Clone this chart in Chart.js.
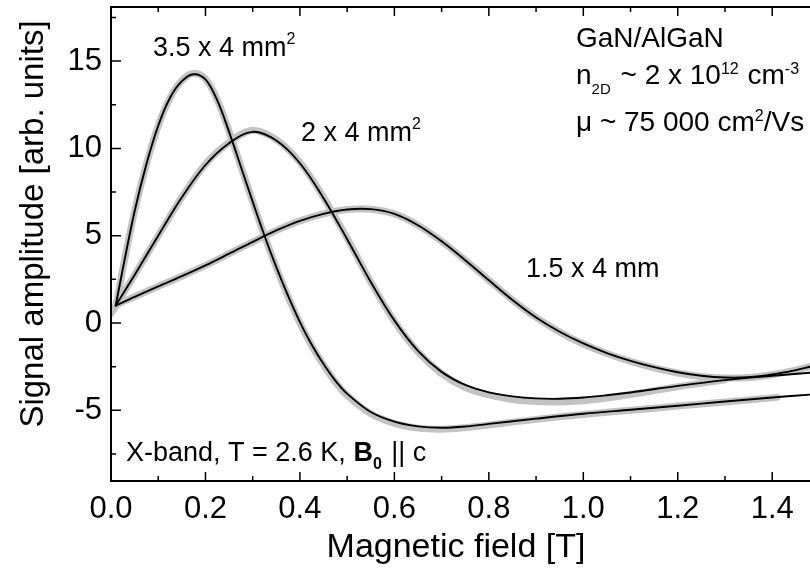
<!DOCTYPE html>
<html>
<head>
<meta charset="utf-8">
<script src="https://cdn.jsdelivr.net/npm/chart.js@4.4.1/dist/chart.umd.min.js"></script>
<style>
  html, body { margin: 0; padding: 0; background: #fff; }
  #wrap { width: 810px; height: 574px; }
</style>
</head>
<body>
<div id="wrap"><canvas id="chart"></canvas></div>
<script>
// ── Données ───────────────────────────────────────────────────────────────────
// 3.5 x 4 mm²
const fieldA = [0.01, 0.025, 0.05, 0.075, 0.1, 0.125, 0.15, 0.175, 0.2, 0.225, 0.25, 0.275, 0.3, 0.325, 0.35, 0.375, 0.4, 0.425, 0.45, 0.475, 0.5, 0.55, 0.6, 0.65, 0.7, 0.75, 0.8, 0.9, 1.0, 1.1, 1.2, 1.3, 1.4, 1.48];
const fitA   = [1.0, 3.1, 6.4, 9.1, 11.3, 12.9, 13.85, 14.25, 13.95, 12.75, 10.95, 8.95, 6.95, 5.0, 3.2, 1.55, 0.05, -1.25, -2.35, -3.3, -4.05, -5.1, -5.65, -5.92, -6.0, -5.93, -5.78, -5.48, -5.2, -4.97, -4.74, -4.5, -4.27, -4.1];
const measFieldA = [0.0, 0.01, 0.025, 0.05, 0.075, 0.1, 0.125, 0.15, 0.175, 0.2, 0.225, 0.25, 0.275, 0.3, 0.325, 0.35, 0.375, 0.4, 0.425, 0.45, 0.475, 0.5, 0.55, 0.6, 0.65, 0.7, 0.75, 0.8, 0.9, 1.0, 1.1, 1.2, 1.3, 1.41];
const measA      = [0.55, 1.0, 3.1, 6.4, 9.1, 11.3, 12.9, 13.88, 14.3, 13.98, 12.78, 10.98, 8.97, 6.97, 5.0, 3.18, 1.5, 0.0, -1.3, -2.4, -3.38, -4.15, -5.2, -5.75, -6.02, -6.08, -6.0, -5.84, -5.52, -5.24, -5.0, -4.76, -4.52, -4.26];

// 2 x 4 mm²
const fieldB = [0.01, 0.05, 0.1, 0.15, 0.2, 0.25, 0.3, 0.35, 0.4, 0.45, 0.5, 0.55, 0.6, 0.65, 0.7, 0.75, 0.8, 0.85, 0.9, 0.95, 1.0, 1.05, 1.1, 1.2, 1.3, 1.4, 1.48];
const fitB   = [1.0, 2.75, 5.0, 7.2, 9.05, 10.3, 10.95, 10.45, 9.15, 7.15, 4.8, 2.35, 0.15, -1.6, -2.8, -3.55, -3.97, -4.2, -4.32, -4.34, -4.27, -4.14, -3.98, -3.6, -3.27, -3.02, -2.85];
const measFieldB = [0.0, 0.01, 0.05, 0.1, 0.15, 0.2, 0.25, 0.3, 0.35, 0.4, 0.45, 0.5, 0.55, 0.6, 0.65, 0.7, 0.75, 0.8, 0.85, 0.9, 0.95, 1.0, 1.05, 1.1, 1.2, 1.3];
const measB      = [0.6, 1.0, 2.75, 5.0, 7.2, 9.1, 10.35, 11.02, 10.5, 9.2, 7.2, 4.85, 2.35, 0.1, -1.65, -2.9, -3.7, -4.12, -4.38, -4.5, -4.52, -4.45, -4.3, -4.1, -3.65, -3.25];

// 1.5 x 4 mm
const fieldC = [0.01, 0.05, 0.1, 0.15, 0.2, 0.25, 0.3, 0.35, 0.4, 0.45, 0.5, 0.55, 0.6, 0.65, 0.7, 0.75, 0.8, 0.85, 0.9, 0.95, 1.0, 1.05, 1.1, 1.15, 1.2, 1.25, 1.3, 1.35, 1.4, 1.45, 1.48];
const fitC   = [1.0, 1.5, 2.1, 2.68, 3.3, 3.97, 4.65, 5.3, 5.85, 6.25, 6.5, 6.52, 6.25, 5.6, 4.68, 3.6, 2.45, 1.32, 0.32, -0.5, -1.17, -1.72, -2.17, -2.53, -2.82, -3.02, -3.12, -3.1, -2.95, -2.7, -2.5];
const measFieldC = [0.0, 0.01, 0.05, 0.1, 0.15, 0.2, 0.25, 0.3, 0.35, 0.4, 0.45, 0.5, 0.55, 0.6, 0.65, 0.7, 0.75, 0.8, 0.85, 0.9, 0.95, 1.0, 1.05, 1.1, 1.15, 1.2, 1.25, 1.3, 1.35, 1.4, 1.45, 1.48];
const measC      = [0.6, 1.0, 1.5, 2.1, 2.68, 3.3, 3.97, 4.65, 5.3, 5.85, 6.25, 6.5, 6.52, 6.25, 5.6, 4.68, 3.6, 2.45, 1.32, 0.32, -0.52, -1.2, -1.75, -2.2, -2.57, -2.86, -3.06, -3.15, -3.12, -2.96, -2.7, -2.5];

// ── Axes ──────────────────────────────────────────────────────────────────────
const xMajor = [0, 0.2, 0.4, 0.6, 0.8, 1.0, 1.2, 1.4];
const xMinor = [0.1, 0.3, 0.5, 0.7, 0.9, 1.1, 1.3];
const yMajor = [-5, 0, 5, 10, 15];
const yMinor = [-7.5, -2.5, 2.5, 7.5, 12.5, 17.5];

const FONT = '"Liberation Sans", Arial, sans-serif';
const GREY = '#c3c3c3';

const pts = (xs, ys) => xs.map((x, i) => ({ x, y: ys[i] }));

function lineSet(data, color, width, order) {
  return {
    data,
    borderColor: color,
    borderWidth: width,
    pointRadius: 0,
    fill: false,
    tension: 0.35,
    borderCapStyle: 'round',
    borderJoinStyle: 'round',
    order,
  };
}

// ── Textes : morceaux avec indices / exposants ─────────────────────────────────
function drawRuns(ctx, x, y, runs) {
  let cx = x;
  runs.forEach(r => {
    ctx.font = `${r.bold ? 'bold ' : ''}${r.size}px ${FONT}`;
    ctx.fillText(r.t, cx, y + (r.dy || 0));
    cx += ctx.measureText(r.t).width + (r.gap || 0);
  });
}

const framePlugin = {
  id: 'frame',
  afterDraw(chart) {
    const { ctx, chartArea: a, scales: { x, y } } = chart;
    ctx.save();
    ctx.strokeStyle = '#000';
    ctx.lineWidth = 2;
    ctx.beginPath();
    ctx.moveTo(a.left, a.top); ctx.lineTo(a.left, a.bottom);
    ctx.moveTo(a.left - 1, a.bottom); ctx.lineTo(a.right, a.bottom);
    ctx.moveTo(a.left - 1, a.top); ctx.lineTo(a.right, a.top);
    ctx.stroke();

    ctx.lineWidth = 1.5;
    ctx.beginPath();
    const xt = (v, len) => {
      const px = x.getPixelForValue(v);
      ctx.moveTo(px, a.bottom); ctx.lineTo(px, a.bottom - len);
      ctx.moveTo(px, a.top); ctx.lineTo(px, a.top + len);
    };
    const yt = (v, len) => {
      const py = y.getPixelForValue(v);
      ctx.moveTo(a.left, py); ctx.lineTo(a.left + len, py);
    };
    xMajor.forEach(v => xt(v, 9));
    xMinor.forEach(v => xt(v, 5));
    yMajor.forEach(v => yt(v, 10));
    yMinor.forEach(v => yt(v, 5));
    ctx.stroke();

    // titres d'axes
    ctx.fillStyle = '#000';
    ctx.textBaseline = 'middle';
    ctx.textAlign = 'center';
    ctx.font = `34px ${FONT}`;
    ctx.fillText('Magnetic field [T]', 456, 548);
    ctx.save();
    ctx.font = `33px ${FONT}`;
    ctx.translate(34, 224);
    ctx.rotate(-Math.PI / 2);
    ctx.fillText('Signal amplitude [arb. units]', 0, 0);
    ctx.restore();

    // annotations
    ctx.textAlign = 'left';
    ctx.textBaseline = 'alphabetic';
    drawRuns(ctx, 153, 56, [{ t: '3.5 x 4 mm', size: 27 }, { t: '2', size: 16, dy: -12 }]);
    drawRuns(ctx, 301, 141, [{ t: '2 x 4 mm', size: 27 }, { t: '2', size: 16, dy: -12 }]);
    drawRuns(ctx, 526, 277, [{ t: '1.5 x 4 mm', size: 27 }]);
    drawRuns(ctx, 126, 461, [
      { t: 'X-band, T = 2.6 K, ', size: 27 },
      { t: 'B', size: 27, bold: true },
      { t: '0', size: 16, bold: true, dy: 8, gap: 2 },
      { t: ' || c', size: 27 },
    ]);
    drawRuns(ctx, 576, 47, [{ t: 'GaN/AlGaN', size: 28 }]);
    drawRuns(ctx, 576, 84, [
      { t: 'n', size: 28 },
      { t: '2D', size: 15, dy: 10, gap: 2 },
      { t: ' ~ 2 x 10', size: 28 },
      { t: '12', size: 16, dy: -10, gap: 1 },
      { t: ' cm', size: 28 },
      { t: '-3', size: 16, dy: -10 },
    ]);
    drawRuns(ctx, 576, 131, [
      { t: 'μ ~ 75 000 cm', size: 28 },
      { t: '2', size: 16, dy: -10 },
      { t: '/Vs', size: 28 },
    ]);
    ctx.restore();
  },
};

new Chart(document.getElementById('chart'), {
  type: 'line',
  data: {
    datasets: [
      lineSet(pts(fieldA, fitA), '#000', 1.9, 0),
      lineSet(pts(fieldB, fitB), '#000', 1.9, 0),
      lineSet(pts(fieldC, fitC), '#000', 1.9, 0),
      lineSet(pts(measFieldA, measA), GREY, 7, 1),
      lineSet(pts(measFieldB, measB), GREY, 7, 1),
      lineSet(pts(measFieldC, measC), GREY, 7, 1),
    ],
  },
  options: {
    responsive: true,
    maintainAspectRatio: false,
    animation: false,
    layout: { padding: { top: 7, right: 0, left: 0, bottom: 0 } },
    plugins: { legend: { display: false }, tooltip: { enabled: false } },
    scales: {
      x: {
        type: 'linear',
        min: 0,
        max: 1.48,
        grid: { display: false, drawTicks: false },
        border: { display: false },
        ticks: {
          stepSize: 0.2,
          includeBounds: false,
          padding: 10,
          color: '#000',
          font: { family: FONT, size: 31 },
          callback: v => v.toFixed(1),
        },
        afterFit: s => { s.height = 93; s.paddingLeft = 0; s.paddingRight = 0; },
      },
      y: {
        min: -9.05,
        max: 18.1,
        grid: { display: false, drawTicks: false },
        border: { display: false },
        ticks: {
          stepSize: 5,
          includeBounds: false,
          padding: 9,
          color: '#000',
          font: { family: FONT, size: 31 },
        },
        afterFit: s => { s.width = 111; s.paddingTop = 0; s.paddingBottom = 0; },
      },
    },
  },
  plugins: [framePlugin],
});
</script>
</body>
</html>
